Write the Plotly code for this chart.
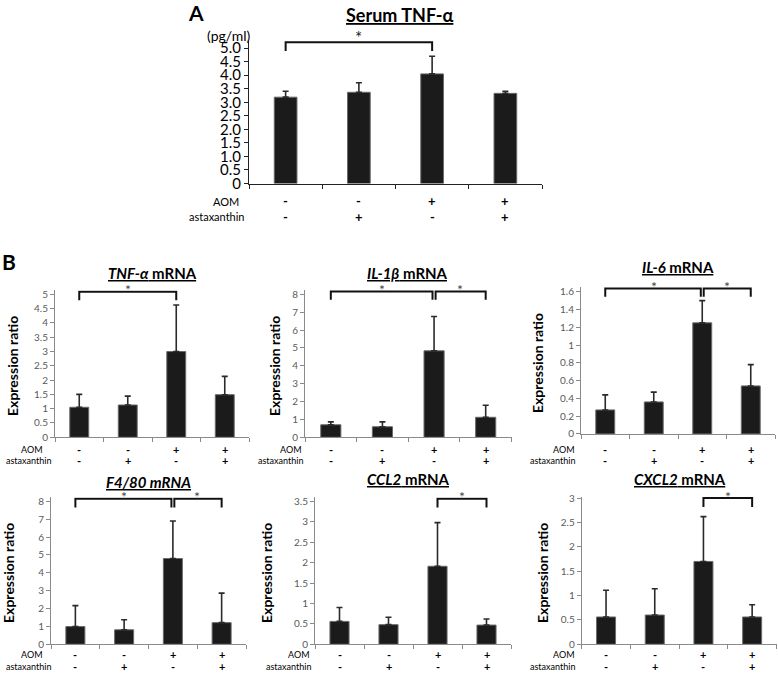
import plotly.graph_objects as go

W, H = 778, 681
FONT = "Lato, 'Open Sans', sans-serif"

# ---------------- data ----------------
aom_signs = ['-', '-', '+', '+']
asta_signs = ['-', '+', '-', '+']

serum_tnf = [3.19, 3.37, 4.05, 3.33]
serum_tnf_err = [0.22, 0.35, 0.65, 0.08]

tnf_mrna = [1.05, 1.13, 3.00, 1.49]
tnf_mrna_err = [0.45, 0.31, 1.63, 0.64]

il1b_mrna = [0.70, 0.59, 4.84, 1.12]
il1b_mrna_err = [0.16, 0.27, 1.92, 0.67]

il6_mrna = [0.27, 0.36, 1.25, 0.54]
il6_mrna_err = [0.17, 0.11, 0.25, 0.24]

f480_mrna = [0.99, 0.81, 4.80, 1.21]
f480_mrna_err = [1.17, 0.56, 2.10, 1.65]

ccl2_mrna = [0.56, 0.48, 1.91, 0.47]
ccl2_mrna_err = [0.34, 0.18, 1.07, 0.15]

cxcl2_mrna = [0.56, 0.60, 1.70, 0.56]
cxcl2_mrna_err = [0.55, 0.54, 0.92, 0.25]

a_ticks = [0, 0.5, 1.0, 1.5, 2.0, 2.5, 3.0, 3.5, 4.0, 4.5, 5.0]
a_ticktext = ['0', '0.5', '1.0', '1.5', '2.0', '2.5', '3.0', '3.5', '4.0', '4.5', '5.0']

# ---------------- panel specs (layout in pixels) ----------------
panels = [
    dict(title='<b><u>Serum TNF-α</u></b>', vals=serum_tnf, errs=serum_tnf_err,
         tickvals=a_ticks, ticktext=a_ticktext, tmax=5.0,
         xl=249, xr=542, y0=182, ytop=44, brk_y=5.22, brk_drop=9, sig=[(0, 2)],
         title_xy=(400, 10), tsize=18, big=True, bw=0.31, star_shift=5,
         aom_y=200, asta_y=216, aom_r=241, asta_r=247, ytitle=None),
    dict(title='<b><u><i>TNF-α</i> mRNA</u></b>', vals=tnf_mrna, errs=tnf_mrna_err,
         tickvals=[i * 0.5 for i in range(11)], ticktext=None, tmax=5.0,
         xl=55, xr=249, y0=440.7, ytop=295, brk_y=5.09, brk_drop=8.5, sig=[(0, 2)],
         title_xy=(152, 273), tsize=15, big=False, bw=0.39, star_shift=2,
         aom_y=453, asta_y=464.5, aom_r=45, asta_r=53, ytitle=(13, 368)),
    dict(title='<b><u><i>IL-1β</i> mRNA</u></b>', vals=il1b_mrna, errs=il1b_mrna_err,
         tickvals=list(range(9)), ticktext=None, tmax=8,
         xl=305, xr=511.5, y0=440.7, ytop=295, brk_y=8.16, brk_drop=8.5, sig=[(0, 2), (2, 3)],
         title_xy=(407, 273), tsize=15, big=False, bw=0.39, star_shift=2,
         aom_y=453, asta_y=464.5, aom_r=304, asta_r=305, ytitle=(275, 368)),
    dict(title='<b><u><i>IL-6</i> mRNA</u></b>', vals=il6_mrna, errs=il6_mrna_err,
         tickvals=[0, 0.2, 0.4, 0.6, 0.8, 1, 1.2, 1.4, 1.6], ticktext=None, tmax=1.6,
         xl=581, xr=775, y0=437.3, ytop=292.3, brk_y=1.636, brk_drop=8.5, sig=[(0, 2), (2, 3)],
         title_xy=(678, 267), tsize=15, big=False, bw=0.39, star_shift=2,
         aom_y=453, asta_y=464.5, aom_r=577, asta_r=577, ytitle=(537, 365)),
    dict(title='<b><u><i>F4/80 mRNA</i></u></b>', vals=f480_mrna, errs=f480_mrna_err,
         tickvals=list(range(9)), ticktext=None, tmax=8,
         xl=51, xr=246, y0=651.7, ytop=506, brk_y=8.15, brk_drop=9, sig=[(0, 2), (2, 3)],
         title_xy=(148, 486), tsize=15, big=False, bw=0.39, star_shift=2,
         aom_y=662.5, asta_y=674, aom_r=45, asta_r=53, ytitle=(9, 579)),
    dict(title='<b><u><i>CCL2</i> mRNA</u></b>', vals=ccl2_mrna, errs=ccl2_mrna_err,
         tickvals=[i * 0.5 for i in range(8)], ticktext=None, tmax=3.5,
         xl=315, xr=511, y0=651.7, ytop=506, brk_y=3.565, brk_drop=9, sig=[(2, 3)],
         title_xy=(408, 483), tsize=15, big=False, bw=0.39, star_shift=2,
         aom_y=662.5, asta_y=674, aom_r=312, asta_r=313, ytitle=(267, 579)),
    dict(title='<b><u><i>CXCL2</i> mRNA</u></b>', vals=cxcl2_mrna, errs=cxcl2_mrna_err,
         tickvals=[i * 0.5 for i in range(7)], ticktext=None, tmax=3.0,
         xl=581.7, xr=776.5, y0=651.7, ytop=502.7, brk_y=3.0, brk_drop=9, sig=[(2, 3)],
         title_xy=(680, 483), tsize=15, big=False, bw=0.39, star_shift=2,
         aom_y=662.5, asta_y=674, aom_r=577, asta_r=577, ytitle=(543, 579)),
]

fig = go.Figure()
layout = dict(width=W, height=H, margin=dict(l=0, r=0, t=0, b=0),
              paper_bgcolor='white', plot_bgcolor='white', showlegend=False,
              font=dict(family=FONT, color='black'))
shapes = []
annotations = []


def px2py(py):
    return 1 - py / H


for k, p in enumerate(panels, start=1):
    xa = 'x' if k == 1 else f'x{k}'
    ya = 'y' if k == 1 else f'y{k}'
    xkey = 'xaxis' if k == 1 else f'xaxis{k}'
    ykey = 'yaxis' if k == 1 else f'yaxis{k}'
    ppu = (p['y0'] - p['ytop']) / p['tmax']          # pixels per data unit
    rmax = p['brk_y'] + 1.5 / ppu
    top_px = p['y0'] - rmax * ppu
    xdom = [p['xl'] / W, p['xr'] / W]
    ydom = [px2py(p['y0']), px2py(top_px)]

    axcol = '#222222' if p['big'] else '#8a8a8a'
    tickcol = 'black' if p['big'] else '#5a5a5a'
    tsz = 15 if p['big'] else 10

    n = len(p['vals'])
    xs = list(range(n))
    fig.add_trace(go.Bar(
        x=xs, y=p['vals'], width=p['bw'], xaxis=xa, yaxis=ya,
        marker=dict(color='#1b1b1b', line=dict(color='#6a6a6a', width=1)),
        error_y=dict(type='data', symmetric=False, array=p['errs'], arrayminus=[0] * n,
                     color='#2a2a2a', thickness=1.6, width=3),
        hoverinfo='skip'))

    layout[xkey] = dict(domain=xdom, anchor=ya, range=[-0.5, n - 0.5],
                        tickvals=[i - 0.5 for i in range(n + 1)], ticktext=[''] * (n + 1),
                        ticks='outside', ticklen=4, tickcolor=axcol, tickwidth=1,
                        showline=True, linecolor=axcol, linewidth=1,
                        showgrid=False, zeroline=False, fixedrange=True)
    yax = dict(domain=ydom, anchor=xa, range=[0, rmax], tickvals=p['tickvals'],
               ticks='outside', ticklen=4, tickcolor=axcol, tickwidth=1,
               showline=True, linecolor=axcol, linewidth=1,
               showgrid=False, zeroline=False, fixedrange=True,
               tickfont=dict(family=FONT, size=tsz, color=tickcol))
    if p['ticktext']:
        yax['ticktext'] = p['ticktext']
    layout[ykey] = yax

    # significance brackets
    drop = p['brk_drop'] / ppu
    starts = [s[0] for s in p['sig']]
    ends = [s[1] for s in p['sig']]
    for (i, j) in p['sig']:
        xi = i + (0.03 if i in ends else 0)
        xj = j - (0.03 if j in starts else 0)
        yb = p['brk_y']
        shapes.append(dict(type='path', xref=xa, yref=ya,
                           path=f'M {xi} {yb - drop} L {xi} {yb} L {xj} {yb} L {xj} {yb - drop}',
                           line=dict(color='#111111', width=2)))
        annotations.append(dict(xref=xa, yref=ya, x=(i + j) / 2, y=yb, text='*',
                                showarrow=False, yanchor='middle', yshift=p['star_shift'],
                                font=dict(family=FONT, size=17 if p['big'] else 14,
                                          color='#444444' if not p['big'] else '#222222')))

    # panel title
    tx, ty = p['title_xy']
    annotations.append(dict(xref='paper', yref='paper', x=tx / W, y=px2py(ty),
                            text=p['title'], showarrow=False, xanchor='center', yanchor='middle',
                            font=dict(family=FONT, size=p['tsize'], color='black')))

    # y-axis title
    if p['ytitle']:
        yx, yy = p['ytitle']
        annotations.append(dict(xref='paper', yref='paper', x=yx / W, y=px2py(yy),
                                text='<b>Expression ratio</b>', textangle=-90, showarrow=False,
                                xanchor='center', yanchor='middle',
                                font=dict(family=FONT, size=14, color='black')))

    # treatment rows
    ssz = 13 if p['big'] else 11
    lsz = 11 if p['big'] else 9
    for i in xs:
        annotations.append(dict(xref=xa, yref='paper', x=i, y=px2py(p['aom_y']),
                                text=f'<b>{aom_signs[i]}</b>', showarrow=False,
                                xanchor='center', yanchor='middle',
                                font=dict(family=FONT, size=ssz, color='black')))
        annotations.append(dict(xref=xa, yref='paper', x=i, y=px2py(p['asta_y']),
                                text=f'<b>{asta_signs[i]}</b>', showarrow=False,
                                xanchor='center', yanchor='middle',
                                font=dict(family=FONT, size=ssz, color='black')))
    annotations.append(dict(xref='paper', yref='paper', x=p['aom_r'] / W, y=px2py(p['aom_y']),
                            text='AOM', showarrow=False, xanchor='right', yanchor='middle',
                            font=dict(family=FONT, size=lsz, color='black')))
    annotations.append(dict(xref='paper', yref='paper', x=p['asta_r'] / W, y=px2py(p['asta_y']),
                            text='astaxanthin', showarrow=False, xanchor='right', yanchor='middle',
                            font=dict(family=FONT, size=lsz, color='black')))

# panel letters and unit label
annotations.append(dict(xref='paper', yref='paper', x=196 / W, y=px2py(8), text='<b>A</b>',
                        showarrow=False, xanchor='center', yanchor='middle',
                        font=dict(family=FONT, size=21, color='black')))
annotations.append(dict(xref='paper', yref='paper', x=9 / W, y=px2py(261), text='<b>B</b>',
                        showarrow=False, xanchor='center', yanchor='middle',
                        font=dict(family=FONT, size=21, color='black')))
annotations.append(dict(xref='paper', yref='paper', x=229 / W, y=px2py(31), text='(pg/ml)',
                        showarrow=False, xanchor='center', yanchor='middle',
                        font=dict(family=FONT, size=14, color='black')))

layout['shapes'] = shapes
layout['annotations'] = annotations
fig.update_layout(**layout)
fig.write_html("out.html", config=dict(displayModeBar=False),
               post_script="document.body.style.margin='0';document.body.style.overflow='hidden';")
